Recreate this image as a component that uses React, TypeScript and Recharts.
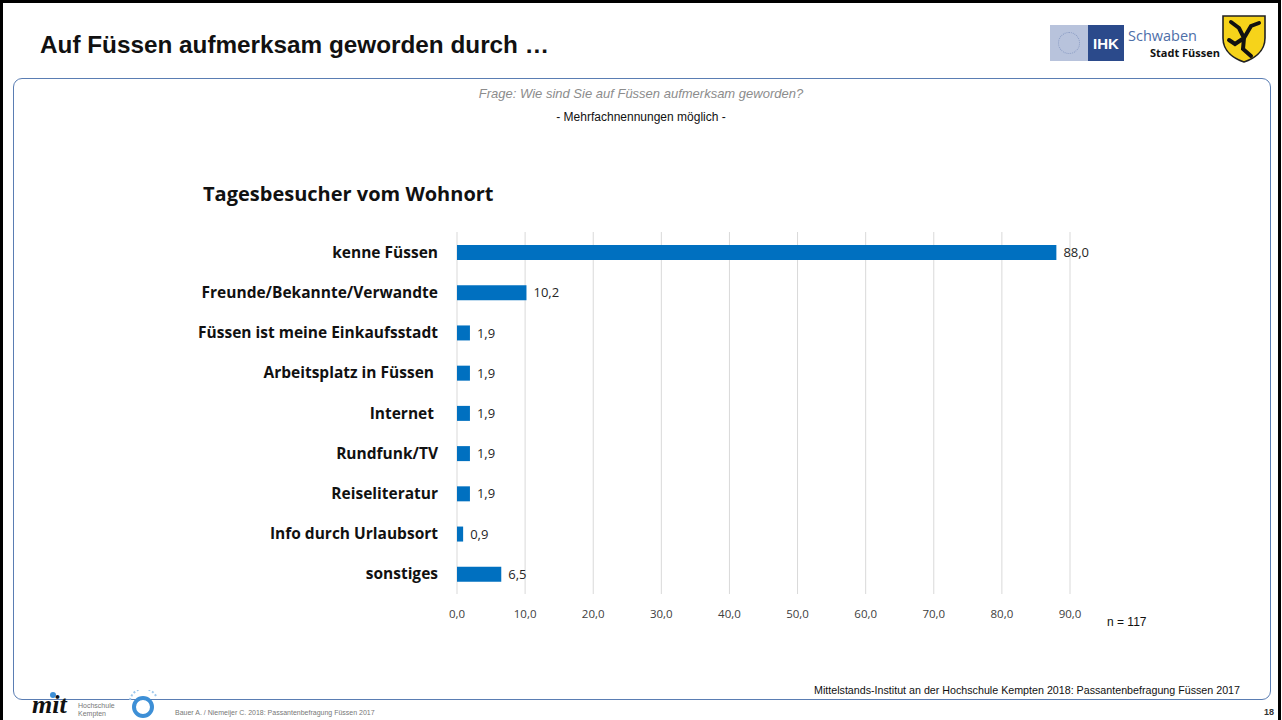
import { BarChart, Bar, XAxis, YAxis, CartesianGrid, LabelList } from "recharts"

const categories = [
  "kenne Füssen",
  "Freunde/Bekannte/Verwandte",
  "Füssen ist meine Einkaufsstadt",
  "Arbeitsplatz in Füssen\u00a0",
  "Internet\u00a0",
  "Rundfunk/TV",
  "Reiseliteratur",
  "Info durch Urlaubsort",
  "sonstiges",
]
const shares = [88.0, 10.2, 1.9, 1.9, 1.9, 1.9, 1.9, 0.9, 6.5]
const xTicks = [0, 10, 20, 30, 40, 50, 60, 70, 80, 90]

const data = categories.map((name, i) => ({ name, value: shares[i] }))

const comma = (v: number) => Number(v).toFixed(1).replace(".", ",")

const CHART_FONT = "'Open Sans', sans-serif"

function IhkLogo() {
  return (
    <div style={{ position: "absolute", left: 1050, top: 25, height: 36, display: "flex" }}>
      <div style={{ width: 38, height: 36, background: "#b8c3dc", display: "flex", alignItems: "center", justifyContent: "center" }}>
        <div style={{ width: 20, height: 20, borderRadius: "50%", border: "1px dotted #8a9cc4" }} />
      </div>
      <div style={{ width: 36, height: 36, background: "#2b4a8b", color: "#fff", fontWeight: 700, fontSize: 15, display: "flex", alignItems: "center", justifyContent: "center", fontFamily: "'Liberation Sans', Arial" }}>
        IHK
      </div>
      <div style={{ position: "relative", width: 100, whiteSpace: "nowrap" }}>
        <div style={{ position: "absolute", left: 4, top: 1, fontSize: 14.5, color: "#4d6ea8", fontFamily: CHART_FONT }}>Schwaben</div>
        <div style={{ position: "absolute", left: 26, top: 20, fontSize: 11, fontWeight: 700, color: "#111", fontFamily: CHART_FONT }}>Stadt Füssen</div>
      </div>
    </div>
  )
}

function Shield() {
  return (
    <svg width={46} height={50} style={{ position: "absolute", left: 1221, top: 14 }} viewBox="0 0 46 50">
      <path d="M2 2 L44 2 L44 24 C44 38 32 45 23 48 C14 45 2 38 2 24 Z" fill="#f6d31a" stroke="#222" strokeWidth={1.6} />
      <path d="M10 8 L18 14 L23 24 L30 12 L38 9 M23 24 L22 35 L30 42 M23 24 L14 30 L8 26" fill="none" stroke="#111" strokeWidth={4} strokeLinecap="round" />
    </svg>
  )
}

function MitLogo() {
  return (
    <div style={{ position: "absolute", left: 30, top: 690, width: 140, height: 30 }}>
      <div style={{ position: "absolute", left: 2, top: 2, fontSize: 26, fontWeight: 700, fontStyle: "italic", fontFamily: "'Liberation Serif', serif", color: "#111", lineHeight: "26px" }}>mit</div>
      <div style={{ position: "absolute", left: 20, top: 2, width: 6, height: 6, borderRadius: "50%", background: "#3d8fd6" }} />
      <div style={{ position: "absolute", left: 48, top: 12, fontSize: 7, color: "#777", lineHeight: "8px", fontFamily: "'Liberation Sans', Arial" }}>
        Hochschule<br />Kempten
      </div>
      <svg width={34} height={30} style={{ position: "absolute", left: 96, top: 0 }}>
        <circle cx={17} cy={17} r={9} fill="none" stroke="#3d8fd6" strokeWidth={4} />
        <circle cx={17} cy={17} r={3} fill="#ffffff" />
        <path d="M4 10 A14 14 0 0 1 30 6" fill="none" stroke="#9cc7ec" strokeWidth={2} strokeDasharray="2 2" />
      </svg>
    </div>
  )
}

export default function App() {
  return (
    <div style={{ position: "relative", width: 1282, height: 720, overflow: "hidden", background: "#fff", fontFamily: "'Liberation Sans', Arial, sans-serif" }}>
      <style>{"body{margin:0}"}</style>

      {/* slide frame */}
      <div style={{ position: "absolute", left: 0, top: 0, width: 1281, height: 724, border: "3px solid #000", boxSizing: "border-box" }} />
      <div style={{ position: "absolute", left: 13, top: 78, width: 1258, height: 622, border: "1px solid #5a7db3", borderRadius: 9, boxSizing: "border-box" }} />

      <div style={{ position: "absolute", left: 40, top: 31, fontSize: 24.3, fontWeight: 700, color: "#111" }}>
        Auf Füssen aufmerksam geworden durch …
      </div>
      <IhkLogo />
      <Shield />

      <div style={{ position: "absolute", left: 0, width: 1282, top: 86, textAlign: "center", fontSize: 13, fontStyle: "italic", color: "#8c8c8c" }}>
        Frage: Wie sind Sie auf Füssen aufmerksam geworden?
      </div>
      <div style={{ position: "absolute", left: 0, width: 1282, top: 110, textAlign: "center", fontSize: 12, color: "#111" }}>
        - Mehrfachnennungen möglich -
      </div>

      <div style={{ position: "absolute", left: 203, top: 180, fontSize: 20, fontWeight: 700, color: "#111", fontFamily: CHART_FONT }}>
        Tagesbesucher vom Wohnort
      </div>

      <div style={{ position: "absolute", left: 0, top: 0 }}>
        <BarChart
          width={1282}
          height={720}
          data={data}
          layout="vertical"
          margin={{ top: 232, right: 212, bottom: 96, left: 177 }}
        >
          <CartesianGrid horizontal={false} stroke="#d9d9d9" />
          <XAxis
            type="number"
            domain={[0, 90]}
            ticks={xTicks}
            axisLine={false}
            tickLine={false}
            tickFormatter={comma}
            tickMargin={10}
            height={30}
            tick={{ fontSize: 11.5, fill: "#404040", fontFamily: CHART_FONT }}
          />
          <YAxis
            type="category"
            dataKey="name"
            width={280}
            axisLine={false}
            tickLine={false}
            tickSize={6}
            tickMargin={13}
            interval={0}
            tick={{ fontSize: 15.5, fontWeight: 700, fill: "#111", fontFamily: CHART_FONT }}
          />
          <Bar dataKey="value" fill="#0070c0" barSize={15} isAnimationActive={false}>
            <LabelList
              dataKey="value"
              position="right"
              offset={7}
              formatter={(v: any) => comma(v)}
              style={{ fontSize: 13, fill: "#262626", fontFamily: CHART_FONT }}
            />
          </Bar>
        </BarChart>
      </div>

      <div style={{ position: "absolute", left: 1107, top: 615, fontSize: 12, color: "#111" }}>n = 117</div>

      <div style={{ position: "absolute", right: 42, top: 684, fontSize: 10.7, color: "#111" }}>
        Mittelstands-Institut an der Hochschule Kempten 2018: Passantenbefragung Füssen 2017
      </div>
      <MitLogo />
      <div style={{ position: "absolute", left: 175, top: 709, fontSize: 7, color: "#777" }}>
        Bauer A. / Niemeijer C. 2018: Passantenbefragung Füssen 2017
      </div>
      <div style={{ position: "absolute", left: 1264, top: 707, fontSize: 9, fontWeight: 700, color: "#333" }}>18</div>
    </div>
  )
}
